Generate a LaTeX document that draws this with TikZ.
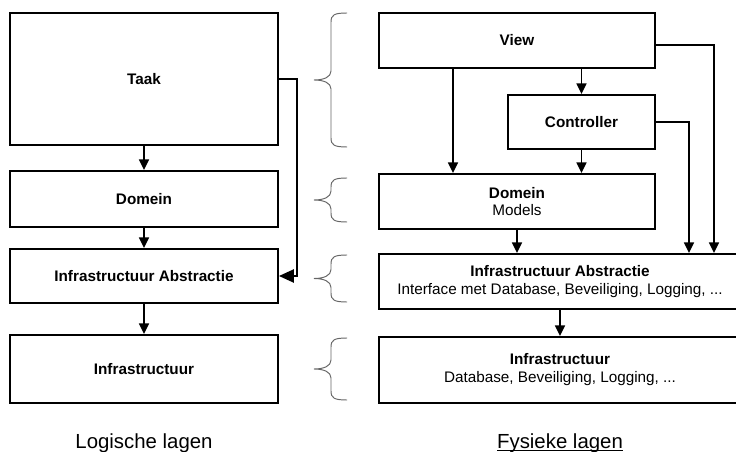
\documentclass[tikz,border=0pt]{standalone}
\usepackage{fontspec}
\setmainfont{Liberation Sans}
\usetikzlibrary{arrows.meta}
\tikzset{
  laag/.style n args={2}{draw, line width=1.1pt, minimum width={#1*0.02cm},
    minimum height={#2*0.02cm}, inner sep=0pt, align=center,
    font=\fontsize{8.7}{10.2}\selectfont},
  pijl/.style={line width=1pt, -{Triangle[length=6pt,width=5.6pt]}},
  dikpijl/.style={line width=1pt, -{Triangle[length=8.5pt,width=7.5pt]}},
  accolade/.style={draw=black!60, line width=0.55pt},
  kop/.style={anchor=base, inner sep=0pt, font=\fontsize{11.6}{13}\selectfont}
}
% accolade van boven (#1) tot onder (#2)
\newcommand{\accolade}[2]{%
  \pgfmathsetmacro{\midden}{(#1+#2)/2}
  \draw[accolade] (347, #1) .. controls (334, #1) and (331, #1+2) .. (331, #1+9)
    -- (331, \midden-9) .. controls (331, \midden-3) and (324, \midden) .. (314, \midden)
    .. controls (324, \midden) and (331, \midden+3) .. (331, \midden+9)
    -- (331, #2-9) .. controls (331, #2-2) and (334, #2) .. (347, #2);
}
\begin{document}
\begin{tikzpicture}[x=0.02cm, y=-0.02cm]
\clip (0, 0) rectangle (736, 452);
% logische lagen
\node[laag={268}{132}] (taak) at (144, 79) {\textbf{Taak}};
\node[laag={268}{56}] (ldom) at (144, 199) {\textbf{Domein}};
\node[laag={268}{54}] (labs) at (144, 276) {\textbf{Infrastructuur Abstractie}};
\node[laag={268}{68}] (linf) at (144, 369) {\textbf{Infrastructuur}};
\node[kop] (logisch) at (144, 448) {Logische lagen};
% fysieke lagen
\node[laag={276}{55}] (view) at (517, 40.5) {\textbf{View}};
\node[laag={147}{54}] (ctrl) at (581.5, 122) {\textbf{Controller}};
\node[laag={276}{55}] (rdom) at (517, 201.5) {\textbf{Domein}\\Models};
\node[laag={362}{55}] (rabs) at (560, 281.5)
  {\textbf{Infrastructuur Abstractie}\\Interface met Database, Beveiliging, Logging, ...};
\node[laag={362}{66}] (rinf) at (560, 370)
  {\textbf{Infrastructuur}\\Database, Beveiliging, Logging, ...};
\node[kop] (fysiek) at (560, 448) {\underline{\smash{Fysieke lagen}}};
% hulppunten
\coordinate (vd) at (453, 0);
\coordinate (cx) at (689, 0);
\coordinate (vx) at (714, 45);
% pijlen links
\draw[pijl] (taak) -- (ldom);
\draw[pijl] (ldom) -- (labs);
\draw[pijl] (labs) -- (linf);
\draw[dikpijl] (taak.east) -- ++(18, 0) |- (labs.east); %taak naar abstractie
% pijlen rechts
\draw[pijl] (view.south -| vd) -- (rdom.north -| vd);
\draw[pijl] (view.south -| ctrl.north) -- (ctrl.north);
\draw[pijl] (ctrl.south) -- (ctrl.south |- rdom.north);
\draw[pijl] (rdom.south) -- (rdom.south |- rabs.north);
\draw[pijl] (rabs) -- (rinf);
\draw[pijl] (ctrl.east) -| (rabs.north -| cx); %controller naar abstractie
\draw[pijl] (view.east |- vx) -| (rabs.north -| vx); %view naar abstractie
% accolades
\accolade{13}{147}
\accolade{178}{222}
\accolade{255}{302}
\accolade{338}{400}
\end{tikzpicture}
\end{document}
